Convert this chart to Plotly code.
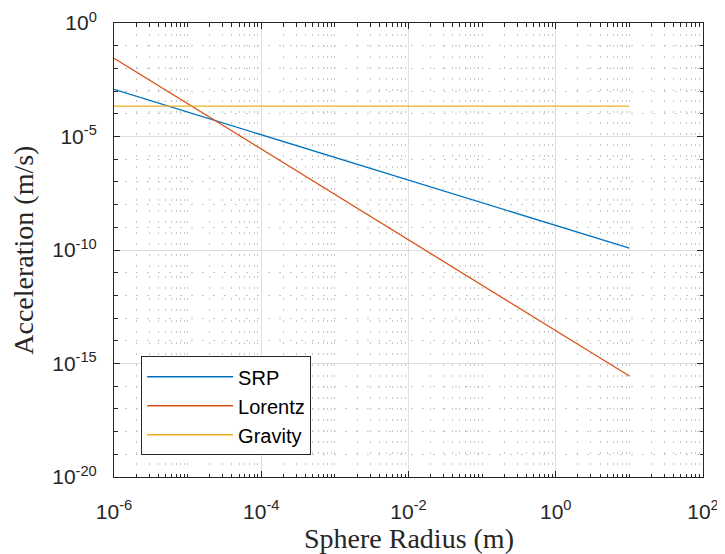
import numpy as np
import plotly.graph_objects as go

# sphere radius (m), one point per decade
radius = [1e-6, 1e-5, 1e-4, 1e-3, 1e-2, 1e-1, 1e0, 1e1]

# accelerations
srp = [1.2e-3, 1.2e-4, 1.2e-5, 1.2e-6, 1.2e-7, 1.2e-8, 1.2e-9, 1.2e-10]
lorentz = [2.8e-2, 2.8e-4, 2.8e-6, 2.8e-8, 2.8e-10, 2.8e-12, 2.8e-14, 2.8e-16]
gravity = [2.2e-4, 2.2e-4, 2.2e-4, 2.2e-4, 2.2e-4, 2.2e-4, 2.2e-4, 2.2e-4]

series_names = ['SRP', 'Lorentz', 'Gravity']
series_colors = ['#0072BD', '#D95319', '#EDB120']

x_major = [-6, -4, -2, 0, 2]
y_major = [0, -5, -10, -15, -20]

x_ticktext = ['10<sup>%d</sup>' % e for e in x_major]
y_ticktext = ['10<sup>%d</sup>' % e for e in y_major]

# minor ticks (matlab style)
x_minor = []
for d in range(-6, 2):
    for k in range(1, 10):
        v = k * 10.0 ** d
        if not (k == 1 and d in x_major):
            x_minor.append(v)
y_minor = [10.0 ** d for d in range(-20, 1) if d not in y_major]

fig = go.Figure()
for name, ys, col in zip(series_names, [srp, lorentz, gravity], series_colors):
    fig.add_trace(go.Scatter(x=radius, y=ys, mode='lines', name=name,
                             line=dict(color=col, width=1.3)))

axis_common = dict(
    type='log',
    automargin=False,
    showline=True, linecolor='#262626', linewidth=1, mirror='ticks',
    ticks='inside', ticklen=6, tickcolor='#262626', tickwidth=1,
    showgrid=True, gridcolor='#dfdfdf', gridwidth=1,
    zeroline=False,
    tickfont=dict(family='Liberation Sans, Arial', size=21, color='#262626'),
)
minor_common = dict(tickmode='array', ticks='inside', ticklen=3.5,
                    tickcolor='#262626', showgrid=True, gridcolor='#c8c8c8',
                    griddash='2px,9px', gridwidth=1)
title_font = dict(family='Liberation Serif, Times New Roman', size=28, color='#262626')

# the page body adds 8px, so the figure is a bit smaller than the window
fig.update_layout(
    width=717, height=546,
    paper_bgcolor='white', plot_bgcolor='white',
    margin=dict(l=106, r=22, t=15, b=77),
    xaxis=dict(
        axis_common,
        range=[-6, 2],
        tickmode='array', tickvals=[10.0 ** e for e in x_major], ticktext=x_ticktext,
        ticklabelstandoff=16,
        minor=dict(minor_common, tickvals=x_minor),
    ),
    yaxis=dict(
        axis_common,
        range=[-20, 0],
        tickmode='array', tickvals=[10.0 ** e for e in y_major], ticktext=y_ticktext,
        ticklabelstandoff=12,
        minor=dict(minor_common, tickvals=y_minor),
    ),
    legend=dict(
        x=0.046, y=0.266, xanchor='left', yanchor='top',
        bgcolor='white', bordercolor='#262626', borderwidth=1,
        font=dict(family='Liberation Sans, Arial', size=20, color='black'),
        itemwidth=86, tracegroupgap=0,
    ),
    annotations=[
        dict(text='Sphere Radius (m)', x=0.5, y=-0.135, xref='paper', yref='paper',
             xanchor='center', yanchor='middle', showarrow=False, font=title_font),
        dict(text='Acceleration (m/s)', x=-0.155, y=0.5, xref='paper', yref='paper',
             xanchor='center', yanchor='middle', textangle=-90, showarrow=False,
             font=title_font),
    ],
)

fig.write_html('out.html')
